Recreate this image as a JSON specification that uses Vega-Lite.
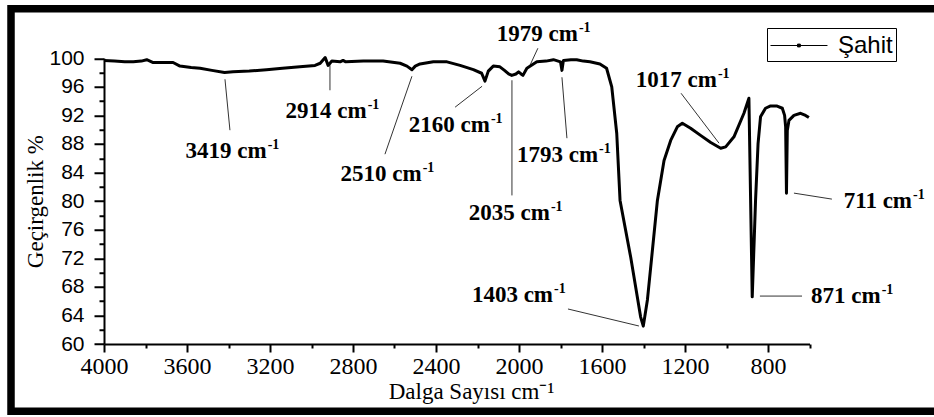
{
  "$schema": "https://vega.github.io/schema/vega-lite/v6.json",
  "width": 923,
  "height": 402.5,
  "autosize": {"type": "none"},
  "padding": {"left": 11, "top": 8.75, "right": 0, "bottom": 5.75},
  "background": "white",
  "config": {
    "view": {"stroke": "black", "strokeWidth": 7.5, "strokeDash": [923, 402.5, 1325.5, 0], "strokeCap": "square"},
    "axis": {"grid": false, "domainColor": "black", "domainWidth": 2, "labelColor": "black", "titleColor": "black", "titleFontWeight": "normal", "labelOverlap": false, "labelFlush": false}
  },
  "resolve": {"axis": {"x": "independent", "y": "independent"}},
  "datasets": {
    "spectrum": [
      {"wn": 4000, "t": 99.7}, {"wn": 3950, "t": 99.6}, {"wn": 3900, "t": 99.5}, {"wn": 3859, "t": 99.5},
      {"wn": 3820, "t": 99.6}, {"wn": 3794, "t": 99.8}, {"wn": 3763, "t": 99.4}, {"wn": 3700, "t": 99.4},
      {"wn": 3667, "t": 99.4}, {"wn": 3634, "t": 98.9}, {"wn": 3580, "t": 98.7}, {"wn": 3537, "t": 98.6},
      {"wn": 3480, "t": 98.3}, {"wn": 3419, "t": 98.0}, {"wn": 3378, "t": 98.1}, {"wn": 3300, "t": 98.2},
      {"wn": 3217, "t": 98.4}, {"wn": 3140, "t": 98.6}, {"wn": 3056, "t": 98.8}, {"wn": 2983, "t": 99.0},
      {"wn": 2958, "t": 99.3}, {"wn": 2934, "t": 100.1}, {"wn": 2920, "t": 99.0}, {"wn": 2902, "t": 99.6},
      {"wn": 2862, "t": 99.5}, {"wn": 2848, "t": 99.7}, {"wn": 2835, "t": 99.5}, {"wn": 2750, "t": 99.6},
      {"wn": 2655, "t": 99.6}, {"wn": 2573, "t": 99.3}, {"wn": 2540, "t": 98.9}, {"wn": 2516, "t": 98.4},
      {"wn": 2500, "t": 98.9}, {"wn": 2477, "t": 99.2}, {"wn": 2413, "t": 99.5}, {"wn": 2347, "t": 99.5},
      {"wn": 2284, "t": 99.0}, {"wn": 2220, "t": 98.4}, {"wn": 2180, "t": 97.9}, {"wn": 2164, "t": 96.8},
      {"wn": 2148, "t": 98.2}, {"wn": 2124, "t": 98.9}, {"wn": 2092, "t": 98.8}, {"wn": 2070, "t": 98.3},
      {"wn": 2050, "t": 97.8}, {"wn": 2035, "t": 97.6}, {"wn": 2015, "t": 97.8}, {"wn": 2002, "t": 98.1},
      {"wn": 1990, "t": 97.8}, {"wn": 1981, "t": 97.6}, {"wn": 1962, "t": 98.6}, {"wn": 1914, "t": 99.5},
      {"wn": 1870, "t": 99.6}, {"wn": 1834, "t": 99.8}, {"wn": 1800, "t": 99.5}, {"wn": 1793, "t": 98.3},
      {"wn": 1786, "t": 99.7}, {"wn": 1750, "t": 99.8}, {"wn": 1722, "t": 99.8}, {"wn": 1690, "t": 99.6},
      {"wn": 1658, "t": 99.5}, {"wn": 1610, "t": 99.2}, {"wn": 1578, "t": 98.6}, {"wn": 1553, "t": 96.0},
      {"wn": 1529, "t": 89.5}, {"wn": 1513, "t": 80.1}, {"wn": 1462, "t": 72.2}, {"wn": 1414, "t": 63.8},
      {"wn": 1401, "t": 62.5}, {"wn": 1381, "t": 66.2}, {"wn": 1333, "t": 80.1}, {"wn": 1301, "t": 85.7},
      {"wn": 1269, "t": 88.5}, {"wn": 1237, "t": 90.4}, {"wn": 1213, "t": 90.9}, {"wn": 1173, "t": 90.2},
      {"wn": 1125, "t": 89.2}, {"wn": 1076, "t": 88.2}, {"wn": 1028, "t": 87.4}, {"wn": 1004, "t": 87.6},
      {"wn": 964, "t": 89.0}, {"wn": 916, "t": 92.3}, {"wn": 892, "t": 94.4}, {"wn": 876, "t": 66.6},
      {"wn": 866, "t": 75.0}, {"wn": 860, "t": 80.1}, {"wn": 848, "t": 88.0}, {"wn": 836, "t": 91.8},
      {"wn": 812, "t": 93.0}, {"wn": 790, "t": 93.3}, {"wn": 756, "t": 93.3}, {"wn": 731, "t": 93.0},
      {"wn": 720, "t": 92.0}, {"wn": 715, "t": 90.4}, {"wn": 711, "t": 81.1}, {"wn": 707, "t": 89.9},
      {"wn": 699, "t": 91.3}, {"wn": 675, "t": 92.0}, {"wn": 643, "t": 92.3}, {"wn": 619, "t": 92.0},
      {"wn": 603, "t": 91.7}
    ],
    "labels": [
      {"wn": 3216, "t": 86.08, "main": "3419 cm", "sup": "-1"},
      {"wn": 2734, "t": 91.68, "main": "2914 cm", "sup": "-1"},
      {"wn": 2469, "t": 82.87, "main": "2510 cm", "sup": "-1"},
      {"wn": 2140, "t": 89.61, "main": "2160 cm", "sup": "-1"},
      {"wn": 1716, "t": 102.42, "main": "1979 cm", "sup": "-1"},
      {"wn": 1851, "t": 77.34, "main": "2035 cm", "sup": "-1"},
      {"wn": 1619, "t": 85.41, "main": "1793 cm", "sup": "-1"},
      {"wn": 1836, "t": 65.92, "main": "1403 cm", "sup": "-1"},
      {"wn": 1046, "t": 95.99, "main": "1017 cm", "sup": "-1"},
      {"wn": 106, "t": 79.02, "main": "711 cm", "sup": "-1"},
      {"wn": 257, "t": 65.69, "main": "871 cm", "sup": "-1"}
    ],
    "leaders": [
      {"wn": 3417, "t": 97.06, "wn2": 3393, "t2": 89.93},
      {"wn": 2911, "t": 99.02, "wn2": 2911, "t2": 95.52},
      {"wn": 2646, "t": 86.57, "wn2": 2516, "t2": 97.48},
      {"wn": 2308, "t": 93.15, "wn2": 2178, "t2": 96.08},
      {"wn": 1909, "t": 101.4, "wn2": 1947, "t2": 99.02},
      {"wn": 2034, "t": 96.92, "wn2": 2034, "t2": 80.8},
      {"wn": 1769, "t": 88.81, "wn2": 1793, "t2": 97.34},
      {"wn": 1764, "t": 64.9, "wn2": 1422, "t2": 62.52},
      {"wn": 1219, "t": 95.1, "wn2": 1036, "t2": 88.11},
      {"wn": 675, "t": 81.12, "wn2": 492, "t2": 80.28},
      {"wn": 839, "t": 66.71, "wn2": 636, "t2": 66.71}
    ]
  },
  "layer": [
    {
      "data": {"name": "leaders"},
      "mark": {"type": "rule", "color": "#333333", "strokeWidth": 1},
      "encoding": {
        "x": {
          "field": "wn", "type": "quantitative",
          "axis": {
            "orient": "bottom", "offset": -67.25, "title": null, "labels": false, "domain": false,
            "values": [3800, 3400, 3000, 2600, 2200, 1800, 1400, 1000, 600],
            "ticks": true, "tickSize": 4, "tickColor": "#000000", "tickWidth": 2, "tickCap": "butt", "tickDash": [], "tickOpacity": 1
          }
        },
        "y": {
          "field": "t", "type": "quantitative",
          "axis": {
            "orient": "left", "offset": -93, "title": null, "labels": false, "domain": false,
            "values": [62, 66, 70, 74, 78, 82, 86, 90, 94, 98],
            "ticks": true, "tickSize": 5, "tickColor": "#000000", "tickWidth": 2, "tickCap": "butt", "tickDash": [], "tickOpacity": 1
          }
        },
        "x2": {"field": "wn2"},
        "y2": {"field": "t2"}
      }
    },
    {
      "data": {"name": "spectrum"},
      "mark": {"type": "line", "strokeWidth": 3, "strokeJoin": "round"},
      "encoding": {
        "x": {
          "field": "wn", "type": "quantitative",
          "scale": {"domain": [4000, 600], "range": [93, 798.5], "nice": false, "zero": false},
          "axis": {
            "orient": "bottom",
            "title": "Dalga Sayısı cm⁻¹",
            "values": [4000, 3600, 3200, 2800, 2400, 2000, 1600, 1200, 800],
            "format": "d",
            "ticks": true, "tickSize": 8, "tickColor": "#000000", "tickWidth": 2, "tickCap": "butt", "tickDash": [], "tickOpacity": 1,
            "offset": -67.25,
            "labelFont": "Liberation Serif", "labelFontSize": 24, "labelPadding": 2,
            "titleFont": "Liberation Serif", "titleFontSize": 23, "titlePadding": 2,
            "titleX": 460, "titleAlign": "center"
          }
        },
        "y": {
          "field": "t", "type": "quantitative",
          "scale": {"domain": [60, 100], "range": [335.25, 49.5], "nice": false, "zero": false},
          "axis": {
            "orient": "left",
            "title": "Geçirgenlik %",
            "values": [60, 64, 68, 72, 76, 80, 84, 88, 92, 96, 100],
            "ticks": true, "tickSize": 10, "tickColor": "#000000", "tickWidth": 2, "tickCap": "butt", "tickDash": [], "tickOpacity": 1,
            "offset": -93,
            "labelFont": "Liberation Sans", "labelFontSize": 21, "labelPadding": 10,
            "titleFont": "Liberation Serif", "titleFontSize": 23, "titlePadding": 1
          }
        },
        "color": {
          "datum": "Şahit",
          "scale": {"range": ["black"]},
          "legend": {
            "title": null, "orient": "none", "legendX": 756, "legendY": 19.25,
            "symbolType": "M-1,0H3.07M0.93,-0.1h0.2v0.2h-0.2z",
            "symbolSize": 784, "symbolStrokeWidth": 1, "symbolFillColor": "black", "symbolStrokeColor": "black",
            "labelFont": "Liberation Sans", "labelFontSize": 24, "labelColor": "black", "labelOffset": 39,
            "strokeColor": "black", "padding": 3, "fillColor": "white"
          }
        }
      }
    },
    {
      "data": {"name": "labels"},
      "mark": {"type": "text", "align": "right", "baseline": "alphabetic", "font": "Liberation Serif", "fontWeight": "bold", "fontSize": 23, "color": "black"},
      "encoding": {
        "x": {"field": "wn", "type": "quantitative", "axis": null},
        "y": {"field": "t", "type": "quantitative", "axis": null},
        "text": {"field": "main"}
      }
    },
    {
      "data": {"name": "labels"},
      "mark": {"type": "text", "align": "left", "baseline": "alphabetic", "font": "Liberation Serif", "fontWeight": "bold", "fontSize": 14, "dx": 1, "dy": -9, "color": "black"},
      "encoding": {
        "x": {"field": "wn", "type": "quantitative", "axis": null},
        "y": {"field": "t", "type": "quantitative", "axis": null},
        "text": {"field": "sup"}
      }
    }
  ]
}
